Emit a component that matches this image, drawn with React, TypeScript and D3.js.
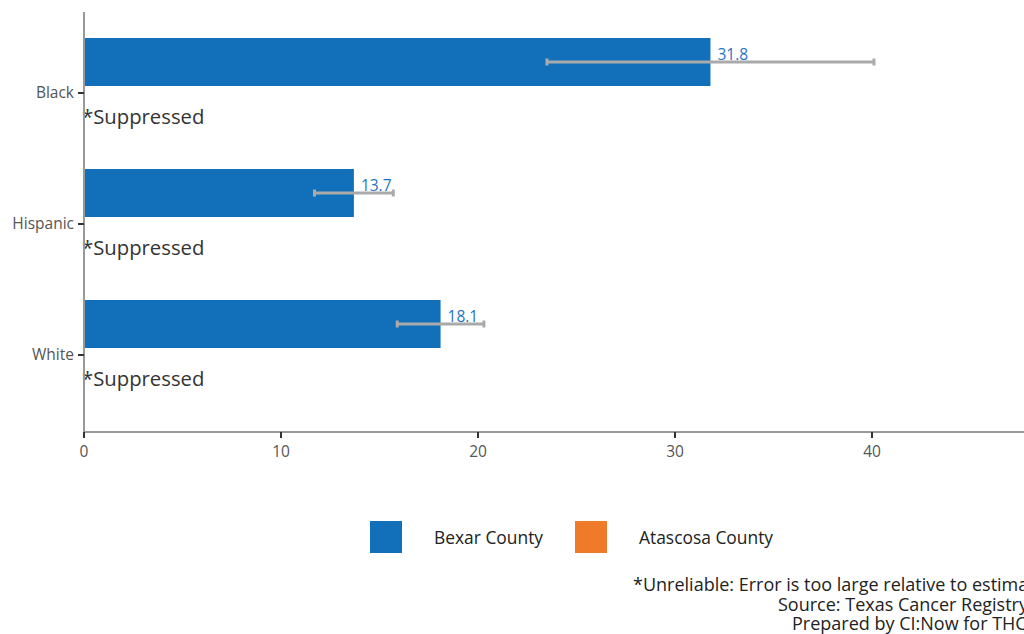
import React from "react";
import * as d3 from "d3";

const categories = ["Black", "Hispanic", "White"];
const counties = ["Bexar County", "Atascosa County"];
const bexarValues = [31.8, 13.7, 18.1];
const bexarLower = [23.5, 11.7, 15.9];
const bexarUpper = [40.1, 15.7, 20.3];
const atascosaSuppressed = [true, true, true];
const xTicks = [0, 10, 20, 30, 40];
const colors = ["#1170b9", "#ee7a2a"];
const footer = [
  "*Unreliable: Error is too large relative to estimate",
  "Source: Texas Cancer Registry",
  "Prepared by CI:Now for THCIC",
];
const footerStart = [633, 778, 792];

const W = 1024;
const H = 634;
const FONT = "'Open Sans', 'Noto Sans', sans-serif";

export default function App() {
  const x = d3.scaleLinear().domain([0, 50]).range([84, 84 + 19.7 * 50]);
  const y = d3.scaleBand().domain(categories).range([27.5, 420.5]).padding(0);
  const sub = d3.scaleBand().domain(counties).range([-55, 41]).padding(0);
  const center = (c: string) => (y(c) as number) + y.bandwidth() / 2;

  return (
    <svg
      width={W}
      height={H}
      style={{ position: "absolute", left: 0, top: 0, display: "block", background: "#fff" }}
      fontFamily={FONT}
    >
      {/* bars */}
      {categories.map((c, i) => {
        const yb = center(c) + (sub("Bexar County") as number);
        const ya = center(c) + (sub("Atascosa County") as number);
        const ym = yb + sub.bandwidth() / 2;
        return (
          <g key={c}>
            <rect x={x(0)} y={yb} width={x(bexarValues[i]) - x(0)} height={sub.bandwidth()} fill={colors[0]} />
            <line x1={x(bexarLower[i])} x2={x(bexarUpper[i])} y1={ym} y2={ym} stroke="#aaaaaa" strokeWidth={3} />
            <line x1={x(bexarLower[i])} x2={x(bexarLower[i])} y1={ym - 3.5} y2={ym + 3.5} stroke="#aaaaaa" strokeWidth={3} />
            <line x1={x(bexarUpper[i])} x2={x(bexarUpper[i])} y1={ym - 3.5} y2={ym + 3.5} stroke="#aaaaaa" strokeWidth={3} />
            <text x={x(bexarValues[i]) + 7} y={ym - 2} fontSize={15.5} fill="#1f73c4">
              {bexarValues[i].toFixed(1)}
            </text>
            {atascosaSuppressed[i] && (
              <text x={x(0) - 2} y={ya + 37.5} fontSize={20.3} fill="#333">
                *Suppressed
              </text>
            )}
          </g>
        );
      })}

      {/* y axis */}
      <line x1={x(0)} x2={x(0)} y1={12} y2={433} stroke="#999" strokeWidth={2} />
      {categories.map((c) => (
        <g key={c}>
          <line x1={x(0) - 6} x2={x(0)} y1={center(c)} y2={center(c)} stroke="#333" strokeWidth={2} />
          <text x={x(0) - 10} y={center(c)} dy="0.35em" textAnchor="end" fontSize={15.5} fill="#555">
            {c}
          </text>
        </g>
      ))}

      {/* x axis */}
      <line x1={x(0) - 1} x2={W} y1={432} y2={432} stroke="#999" strokeWidth={2} />
      {xTicks.map((t) => (
        <g key={t}>
          <line x1={x(t)} x2={x(t)} y1={432} y2={438} stroke="#333" strokeWidth={2} />
          <text x={x(t)} y={457} textAnchor="middle" fontSize={15.5} fill="#555">
            {t}
          </text>
        </g>
      ))}

      {/* legend */}
      {counties.map((c, i) => {
        const lx = 370 + i * 205;
        return (
          <g key={c}>
            <rect x={lx} y={521} width={32} height={32} fill={colors[i]} />
            <text x={lx + 64} y={538} dy="0.35em" fontSize={17.4} fill="#222">
              {c}
            </text>
          </g>
        );
      })}

      {/* footer */}
      {footer.map((f, i) => (
        <text key={i} x={footerStart[i]} y={591 + i * 19.5} fontSize={18} fill="#222">
          {f}
        </text>
      ))}
    </svg>
  );
}
